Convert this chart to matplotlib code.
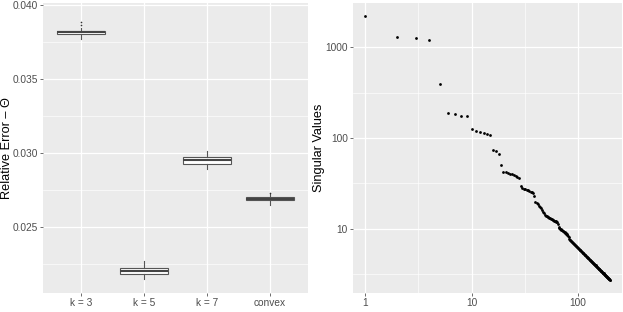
import matplotlib.pyplot as plt
from matplotlib.ticker import FixedLocator, NullFormatter
import numpy as np

plt.rcParams['font.family'] = ['Liberation Sans', 'DejaVu Sans']

# left panel: relative error boxplots
categories = ["k = 3", "k = 5", "k = 7", "convex"]
q1 = [0.03804, 0.02187, 0.02928, 0.02684]
med = [0.03816, 0.02207, 0.02953, 0.02693]
q3 = [0.03828, 0.02227, 0.02978, 0.02702]
whislo = [0.03768, 0.02151, 0.02897, 0.02650]
whishi = [0.03843, 0.02273, 0.03018, 0.02725]
outliers = [[0.03865, 0.03887], [], [], [0.02733]]
err_ticks = [0.025, 0.030, 0.035, 0.040]

# right panel: singular values (index 1..200)
sing_vals = [
    2200, 1283, 1262, 1211, 391, 190, 185, 177, 173, 125,
    121, 117, 113, 111, 108, 74, 72, 66, 50, 42.5,
    41.8, 41.2, 40.6, 40.0, 39.3, 38.5, 37.5, 36.0, 30.0, 28.1,
    27.7, 27.3, 26.9, 26.5, 26.1, 25.7, 25.3, 24.8, 22.8, 19.8,
    19.2, 18.6, 18.0, 17.4, 16.8, 16.1, 15.4, 14.8, 14.3, 13.9,
    13.7, 13.5, 13.4, 13.2, 13.1, 12.9, 12.8, 12.6, 12.5, 12.3,
    12.2, 12.1, 12.0, 11.8, 11.2, 10.4, 10.2, 10.1, 9.95, 9.8,
    9.65, 9.5, 9.4, 9.3, 9.15, 9.0, 8.9, 8.8, 8.7, 8.6,
    8.4, 8.1, 7.8, 7.6, 7.50, 7.39, 7.29, 7.19, 7.10, 7.00,
    6.91, 6.82, 6.74, 6.65, 6.57, 6.49, 6.41, 6.33, 6.26, 6.20,
    6.13, 6.06, 5.99, 5.92, 5.86, 5.80, 5.73, 5.67, 5.60, 5.54,
    5.49, 5.43, 5.38, 5.33, 5.27, 5.22, 5.17, 5.12, 5.06, 5.01,
    4.96, 4.92, 4.87, 4.83, 4.78, 4.74, 4.69, 4.65, 4.60, 4.56,
    4.52, 4.48, 4.45, 4.41, 4.37, 4.33, 4.29, 4.26, 4.22, 4.18,
    4.15, 4.12, 4.08, 4.05, 4.02, 3.99, 3.96, 3.92, 3.89, 3.86,
    3.83, 3.80, 3.78, 3.75, 3.72, 3.69, 3.66, 3.64, 3.61, 3.58,
    3.56, 3.53, 3.51, 3.48, 3.46, 3.43, 3.41, 3.38, 3.36, 3.33,
    3.31, 3.29, 3.27, 3.25, 3.23, 3.20, 3.18, 3.16, 3.14, 3.12,
    3.10, 3.08, 3.06, 3.04, 3.02, 3.00, 2.98, 2.96, 2.94, 2.92,
    2.90, 2.89, 2.87, 2.85, 2.84, 2.82, 2.80, 2.78, 2.77, 2.75,
]
sv_xticks = [1, 10, 100]
sv_yticks = [10, 100, 1000]

BG = '#EBEBEB'
TICKCOL = '#4D4D4D'


def ggplot_axes(ax):
    ax.set_facecolor(BG)
    for s in ax.spines.values():
        s.set_visible(False)
    ax.grid(True, which='major', color='white', lw=0.9)
    ax.grid(True, which='minor', color='white', lw=0.45)
    ax.set_axisbelow(True)
    ax.tick_params(which='major', length=2.2, width=0.5, color='#333333',
                   labelcolor=TICKCOL, labelsize=7.3, pad=1.5)
    ax.tick_params(which='minor', length=0)


fig = plt.figure(figsize=(6.23, 3.12), dpi=100)
ax1 = fig.add_axes([43 / 623, 1 - 293 / 312, 265 / 623, 290 / 312])
ax2 = fig.add_axes([353 / 623, 1 - 293 / 312, 269 / 623, 290 / 312])

# boxplots
stats = []
for i, c in enumerate(categories):
    stats.append(dict(label=c, q1=q1[i], med=med[i], q3=q3[i],
                      whislo=whislo[i], whishi=whishi[i], fliers=outliers[i]))
ax1.bxp(stats, positions=range(1, len(categories) + 1), widths=0.75,
        patch_artist=True, showcaps=False,
        boxprops=dict(facecolor='white', edgecolor='#555555', lw=0.8),
        whiskerprops=dict(color='#555555', lw=0.8),
        medianprops=dict(color='#444444', lw=1.5),
        flierprops=dict(marker='o', markersize=1.2, markerfacecolor='#333333',
                        markeredgecolor='none'))
ggplot_axes(ax1)
ax1.set_xlim(0.4, 4.6)
ax1.set_ylim(0.02057, 0.04014)
ax1.yaxis.set_major_locator(FixedLocator(err_ticks))
ax1.set_yticklabels([f"{t:.3f}" for t in err_ticks])
ax1.yaxis.set_minor_locator(FixedLocator([0.0225, 0.0275, 0.0325, 0.0375]))
ax1.set_ylabel("Relative Error – Θ", fontsize=9.2)
ax1.yaxis.set_label_coords(-0.115, 0.5)

# singular values
idx = np.arange(1, len(sing_vals) + 1)
ax2.scatter(idx, sing_vals, s=4, color='black', linewidths=0, zorder=3)
ax2.set_xscale('log')
ax2.set_yscale('log')
lx = np.log10([idx[0], idx[-1]])
ly = np.log10([min(sing_vals), max(sing_vals)])
ax2.set_xlim(10 ** (lx[0] - 0.05 * (lx[1] - lx[0])), 10 ** (lx[1] + 0.05 * (lx[1] - lx[0])))
ax2.set_ylim(10 ** (ly[0] - 0.05 * (ly[1] - ly[0])), 10 ** (ly[1] + 0.05 * (ly[1] - ly[0])))
ax2.xaxis.set_major_locator(FixedLocator(sv_xticks))
ax2.set_xticklabels([str(t) for t in sv_xticks])
ax2.yaxis.set_major_locator(FixedLocator(sv_yticks))
ax2.set_yticklabels([str(t) for t in sv_yticks])
ax2.xaxis.set_minor_locator(FixedLocator([10 ** 0.5, 10 ** 1.5]))
ax2.yaxis.set_minor_locator(FixedLocator([10 ** 0.5, 10 ** 1.5, 10 ** 2.5]))
ax2.xaxis.set_minor_formatter(NullFormatter())
ax2.yaxis.set_minor_formatter(NullFormatter())
ggplot_axes(ax2)
ax2.set_ylabel("Singular Values", fontsize=9.2)
ax2.yaxis.set_label_coords(-0.104, 0.5)

fig.savefig('out.png', dpi=100)
